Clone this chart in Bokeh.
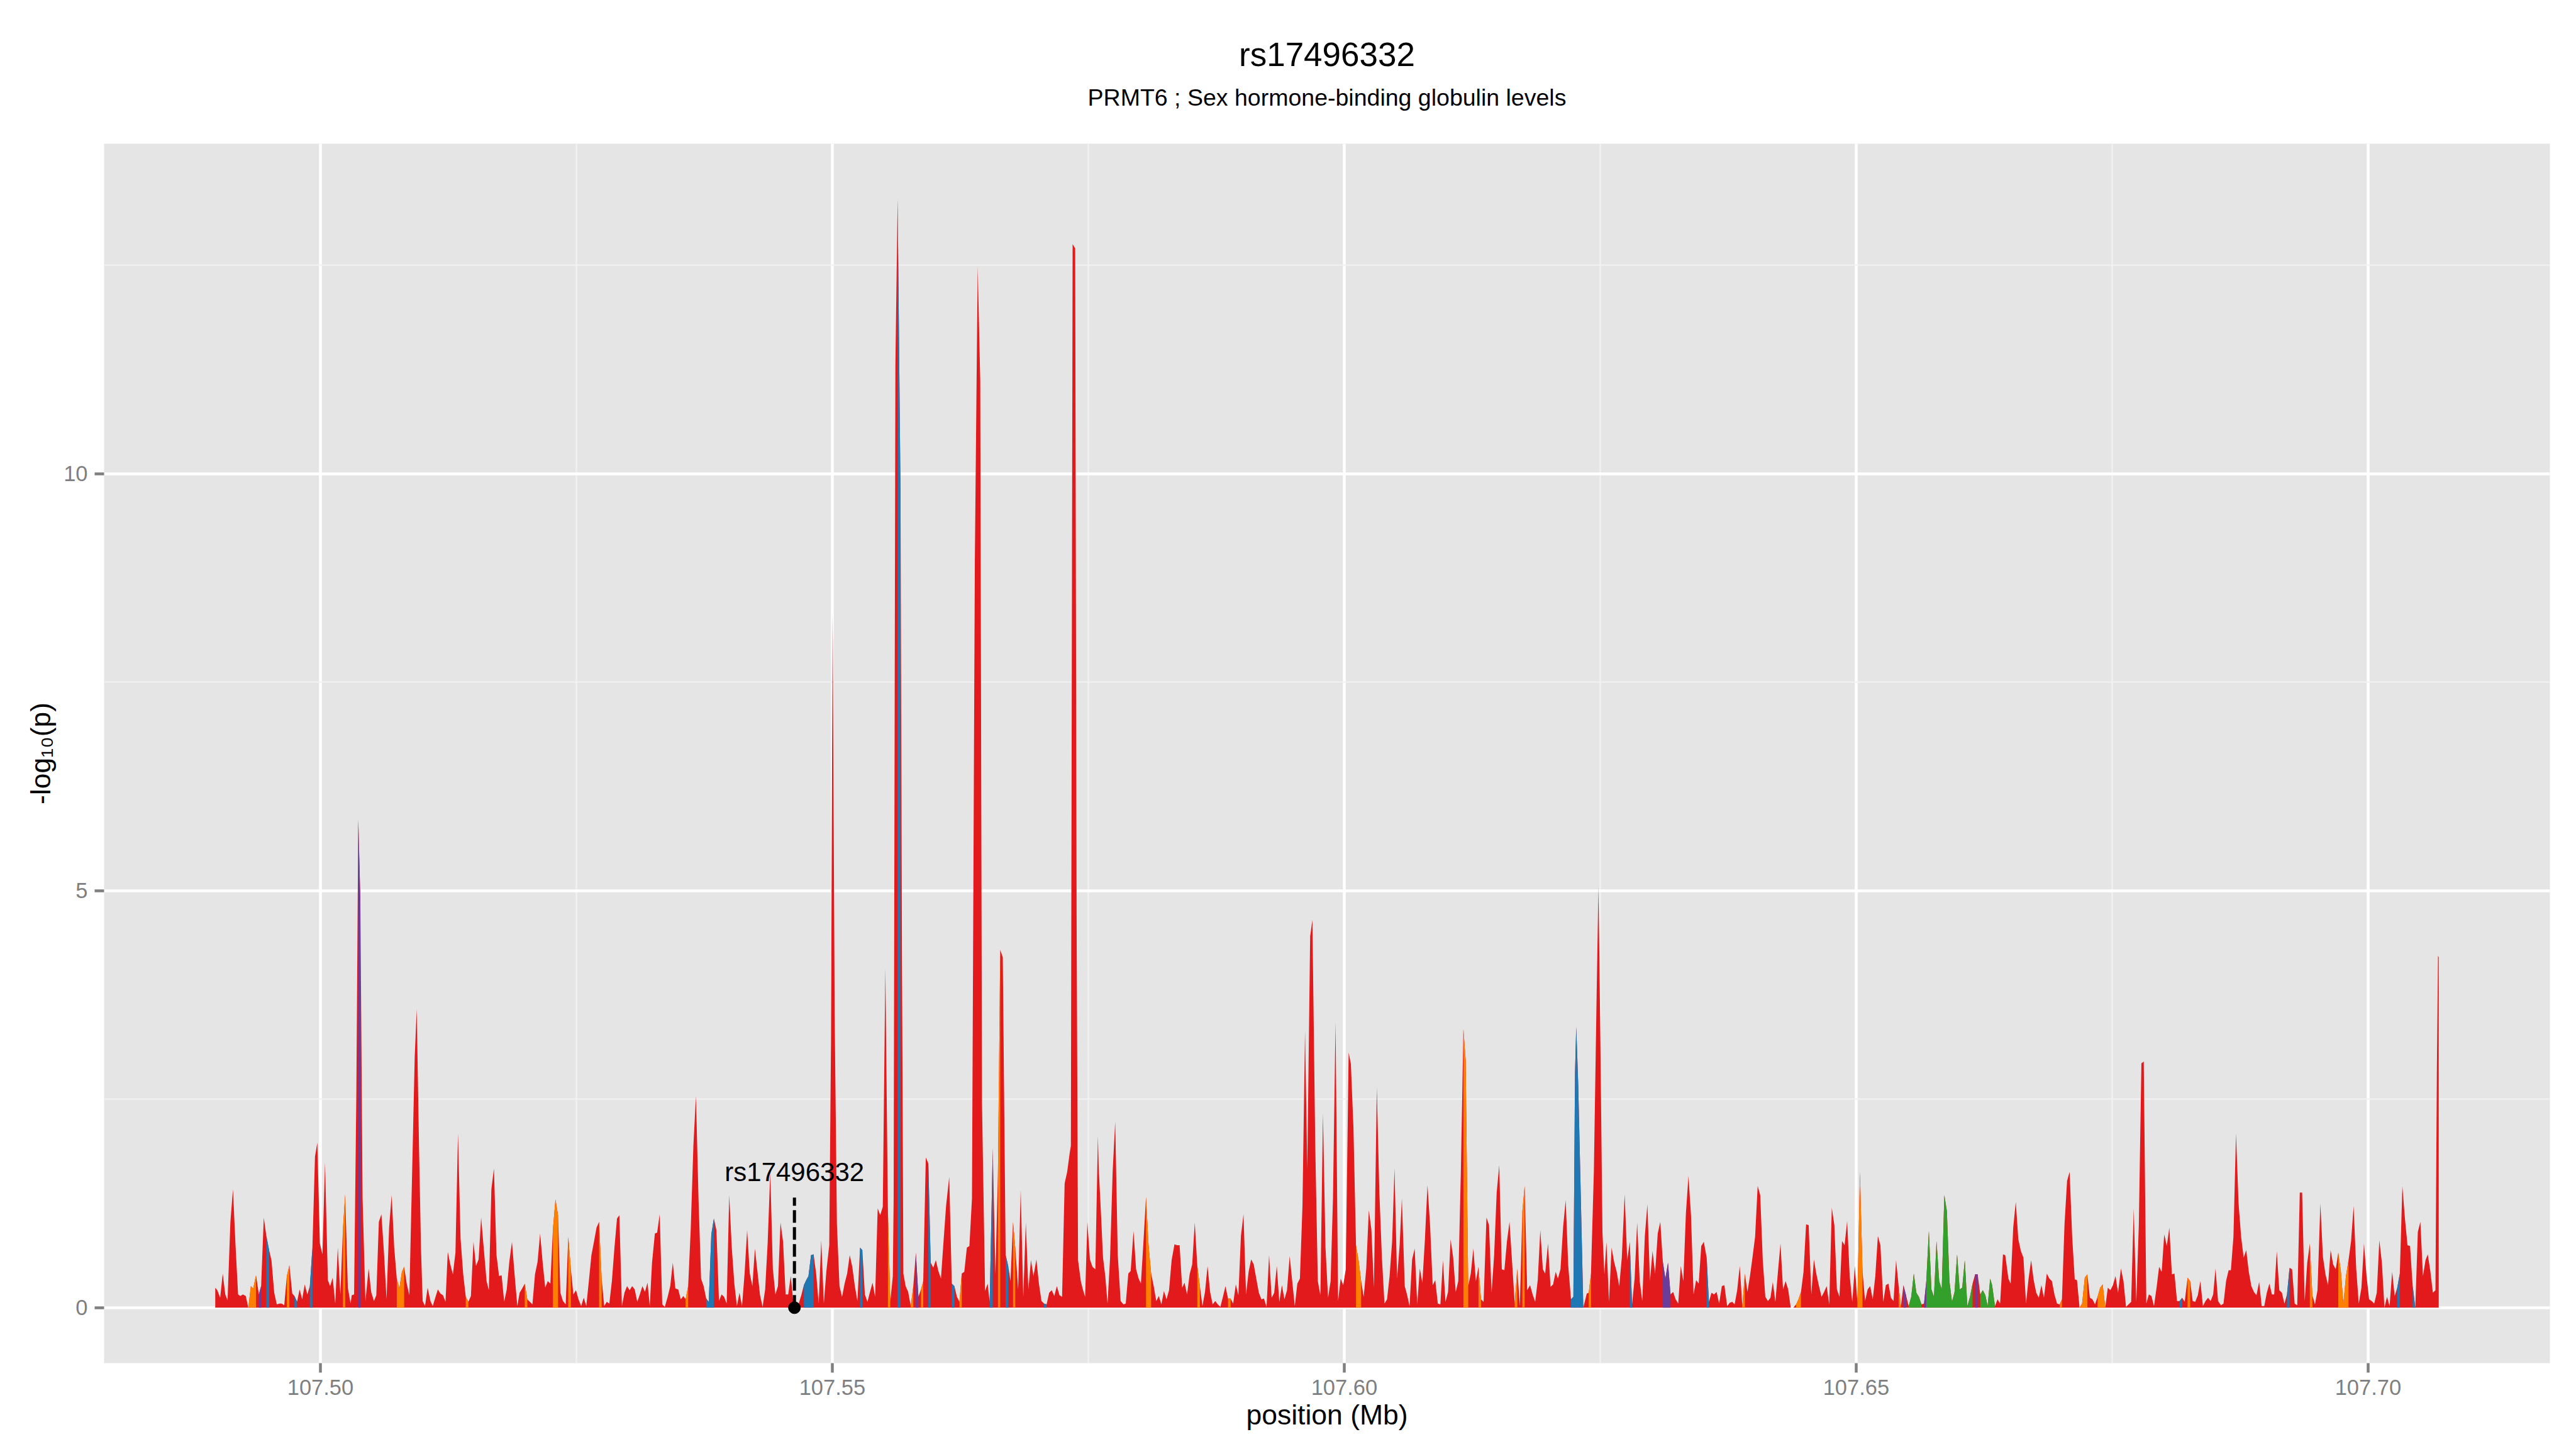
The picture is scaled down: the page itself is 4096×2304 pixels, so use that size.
from bokeh.plotting import figure
from bokeh.models import FixedTicker, PrintfTickFormatter, Title, Range1d
from bokeh.core.properties import value
from bokeh.embed import file_html
from bokeh.resources import INLINE

# ---------------- data ----------------
title_text = "rs17496332"
subtitle_text = "PRMT6 ; Sex hormone-binding globulin levels"
x_label = "position (Mb)"
y_label = "-log\u2081\u2080(p)"

snp_id = "rs17496332"
snp_position = 107.5463
snp_value = 0.0
stem_top = 1.32
label_baseline = 1.63

x_ticks = [107.50, 107.55, 107.60, 107.65, 107.70]
x_minor_ticks = [107.475, 107.525, 107.575, 107.625, 107.675, 107.725]
y_ticks = [0, 5, 10]
y_minor_ticks = [2.5, 7.5, 12.5]

position_mb = [
    107.48973, 107.48993, 107.49021, 107.49046, 107.49071, 107.49093, 107.49121, 107.49146, 107.49171, 107.49196,
    107.49218, 107.49243, 107.49271, 107.49296, 107.49321, 107.49344, 107.49371, 107.49399, 107.49421, 107.49447,
    107.49472, 107.49499, 107.49522, 107.49549, 107.49574, 107.49600, 107.49622, 107.49647, 107.49672, 107.49697,
    107.49725, 107.49747, 107.49772, 107.49797, 107.49822, 107.49847, 107.49872, 107.49897, 107.49922, 107.49947,
    107.49970, 107.49995, 107.50020, 107.50045, 107.50073, 107.50095, 107.50120, 107.50145, 107.50170, 107.50195,
    107.50220, 107.50242, 107.50268, 107.50295, 107.50306, 107.50329, 107.50351, 107.50370, 107.50390, 107.50412,
    107.50440, 107.50471, 107.50496, 107.50523, 107.50546, 107.50571, 107.50596, 107.50621, 107.50646, 107.50671,
    107.50696, 107.50721, 107.50746, 107.50771, 107.50796, 107.50818, 107.50843, 107.50869, 107.50896, 107.50921,
    107.50941, 107.50963, 107.50983, 107.50999, 107.51022, 107.51047, 107.51075, 107.51097, 107.51122, 107.51147,
    107.51172, 107.51197, 107.51222, 107.51244, 107.51269, 107.51294, 107.51319, 107.51344, 107.51369, 107.51395,
    107.51420, 107.51445, 107.51470, 107.51495, 107.51520, 107.51545, 107.51570, 107.51595, 107.51623, 107.51645,
    107.51670, 107.51695, 107.51720, 107.51745, 107.51770, 107.51795, 107.51820, 107.51845, 107.51871, 107.51896,
    107.51923, 107.51946, 107.51971, 107.51996, 107.52021, 107.52046, 107.52071, 107.52096, 107.52121, 107.52146,
    107.52171, 107.52196, 107.52221, 107.52246, 107.52271, 107.52296, 107.52321, 107.52344, 107.52369, 107.52396,
    107.52421, 107.52446, 107.52471, 107.52496, 107.52521, 107.52547, 107.52572, 107.52597, 107.52622, 107.52647,
    107.52672, 107.52697, 107.52722, 107.52747, 107.52772, 107.52797, 107.52822, 107.52847, 107.52872, 107.52897,
    107.52920, 107.52945, 107.52970, 107.52995, 107.53020, 107.53045, 107.53070, 107.53095, 107.53120, 107.53145,
    107.53170, 107.53195, 107.53217,
    107.53239, 107.53267, 107.53289, 107.53314, 107.53339, 107.53364, 107.53392, 107.53417, 107.53442, 107.53467,
    107.53495, 107.53520, 107.53545, 107.53567, 107.53592, 107.53617, 107.53643, 107.53668, 107.53693, 107.53718,
    107.53743, 107.53768, 107.53793, 107.53818, 107.53843, 107.53868, 107.53893, 107.53918, 107.53943, 107.53968,
    107.53993, 107.54018, 107.54043, 107.54068, 107.54093, 107.54118, 107.54143, 107.54168, 107.54194, 107.54219,
    107.54244, 107.54269, 107.54294, 107.54319, 107.54344, 107.54369, 107.54394, 107.54419, 107.54444, 107.54469,
    107.54494, 107.54519, 107.54544, 107.54569, 107.54594, 107.54619, 107.54644, 107.54672, 107.54697, 107.54722,
    107.54745, 107.54767, 107.54792, 107.54817, 107.54842, 107.54867, 107.54892, 107.54917, 107.54942, 107.54970,
    107.54987, 107.55003, 107.55023, 107.55045, 107.55070, 107.55095, 107.55120, 107.55145, 107.55170, 107.55195,
    107.55220, 107.55245, 107.55271, 107.55293, 107.55318, 107.55343, 107.55368, 107.55393, 107.55418, 107.55443,
    107.55468, 107.55493, 107.55518, 107.55543, 107.55566, 107.55591, 107.55599, 107.55616, 107.55638, 107.55666,
    107.55680, 107.55694, 107.55716, 107.55741, 107.55766, 107.55791, 107.55816, 107.55841, 107.55866, 107.55888,
    107.55913, 107.55938, 107.55961, 107.55986, 107.56011, 107.56036, 107.56061, 107.56086, 107.56111, 107.56142,
    107.56167, 107.56192, 107.56217, 107.56242, 107.56264, 107.56289, 107.56314, 107.56339, 107.56364, 107.56392,
    107.56420, 107.56445, 107.56462, 107.56492, 107.56517, 107.56537, 107.56567, 107.56593, 107.56618, 107.56640,
    107.56665, 107.56693, 107.56718, 107.56740, 107.56765, 107.56787, 107.56815, 107.56840, 107.56865, 107.56890,
    107.56915, 107.56940, 107.56965, 107.56993, 107.57018, 107.57043, 107.57068, 107.57093, 107.57118, 107.57143,
    107.57168, 107.57193, 107.57219, 107.57244, 107.57269, 107.57294, 107.57319, 107.57330, 107.57347, 107.57372,
    107.57386, 107.57400, 107.57427, 107.57447, 107.57469, 107.57491, 107.57516, 107.57541, 107.57569, 107.57594,
    107.57602, 107.57624, 107.57644, 107.57666, 107.57688, 107.57713, 107.57738, 107.57763, 107.57788, 107.57816,
    107.57844, 107.57866, 107.57891, 107.57914, 107.57942, 107.57967, 107.57992, 107.58014, 107.58039, 107.58064,
    107.58089, 107.58114, 107.58139, 107.58164, 107.58189, 107.58214, 107.58239, 107.58264, 107.58289, 107.58314,
    107.58342, 107.58367, 107.58392, 107.58417, 107.58440, 107.58465, 107.58490, 107.58515, 107.58540, 107.58565,
    107.58590, 107.58615, 107.58640, 107.58665, 107.58690, 107.58715, 107.58740, 107.58765, 107.58790, 107.58815,
    107.58840, 107.58865, 107.58890, 107.58915, 107.58941, 107.58966, 107.58991, 107.59016, 107.59041, 107.59066,
    107.59091, 107.59116, 107.59141, 107.59166, 107.59191, 107.59216, 107.59241, 107.59266, 107.59291, 107.59316,
    107.59341, 107.59366, 107.59391, 107.59416, 107.59441, 107.59467, 107.59492, 107.59517, 107.59542, 107.59567,
    107.59592, 107.59617, 107.59639, 107.59667, 107.59689, 107.59717, 107.59742, 107.59767, 107.59792, 107.59817,
    107.59842, 107.59867, 107.59890, 107.59915, 107.59940, 107.59965, 107.59990, 107.60015, 107.60043, 107.60065,
    107.60090, 107.60115, 107.60140, 107.60165, 107.60190, 107.60215, 107.60240, 107.60265, 107.60290, 107.60318,
    107.60343, 107.60368, 107.60393, 107.60418, 107.60443, 107.60468, 107.60491, 107.60516, 107.60541, 107.60563,
    107.60591, 107.60613, 107.60638, 107.60663, 107.60688, 107.60713, 107.60738, 107.60763, 107.60788, 107.60813,
    107.60838, 107.60864, 107.60889, 107.60914, 107.60939, 107.60964, 107.60989, 107.61014, 107.61039, 107.61064,
    107.61089, 107.61114, 107.61139, 107.61164, 107.61186, 107.61211, 107.61236, 107.61261, 107.61286, 107.61311,
    107.61336, 107.61361, 107.61389, 107.61414, 107.61439, 107.61464, 107.61489, 107.61514, 107.61539, 107.61564,
    107.61589, 107.61614, 107.61640, 107.61665, 107.61690, 107.61715, 107.61740, 107.61762, 107.61787, 107.61815,
    107.61840, 107.61865, 107.61890, 107.61915, 107.61940, 107.61962,
    107.61965, 107.61990, 107.62015, 107.62040, 107.62065, 107.62087, 107.62112, 107.62138, 107.62163, 107.62188,
    107.62215, 107.62238, 107.62254, 107.62266, 107.62285, 107.62305, 107.62335, 107.62369, 107.62388, 107.62410,
    107.62438, 107.62466, 107.62483, 107.62502, 107.62522, 107.62541, 107.62561, 107.62586, 107.62611, 107.62636,
    107.62661, 107.62686, 107.62711, 107.62739, 107.62764, 107.62789, 107.62811, 107.62836, 107.62861, 107.62886,
    107.62911, 107.62936, 107.62961, 107.62986, 107.63011, 107.63036, 107.63062, 107.63087, 107.63112, 107.63137,
    107.63162, 107.63187, 107.63212, 107.63237, 107.63262, 107.63287, 107.63312, 107.63337, 107.63362, 107.63387,
    107.63412, 107.63437, 107.63462, 107.63487, 107.63512, 107.63540, 107.63562, 107.63587, 107.63612, 107.63637,
    107.63662, 107.63688, 107.63713, 107.63740, 107.63765, 107.63790, 107.63813, 107.63838, 107.63863, 107.63888,
    107.63913, 107.63938, 107.63963, 107.63988, 107.64013, 107.64038, 107.64063, 107.64088, 107.64113, 107.64138,
    107.64163, 107.64186, 107.64211, 107.64236, 107.64261, 107.64286, 107.64311, 107.64336, 107.64361, 107.64386,
    107.64414, 107.64436, 107.64461, 107.64486, 107.64511, 107.64536, 107.64562, 107.64587, 107.64612, 107.64637,
    107.64662, 107.64687, 107.64712, 107.64737, 107.64762, 107.64787, 107.64812, 107.64837, 107.64862, 107.64887,
    107.64912, 107.64937, 107.64962, 107.64987, 107.65012, 107.65037, 107.65062, 107.65087, 107.65112, 107.65137,
    107.65162, 107.65187, 107.65212, 107.65237, 107.65265, 107.65290, 107.65315, 107.65340, 107.65365, 107.65390,
    107.65415, 107.65437, 107.65462, 107.65487, 107.65513, 107.65538, 107.65563, 107.65588, 107.65613, 107.65638,
    107.65663, 107.65685, 107.65710, 107.65735, 107.65760, 107.65785, 107.65811, 107.65836, 107.65861, 107.65886,
    107.65911, 107.65936, 107.65961, 107.65986, 107.66011, 107.66036, 107.66061, 107.66086, 107.66112, 107.66137,
    107.66162, 107.66187, 107.66212, 107.66237, 107.66262, 107.66284, 107.66309,
    107.66328, 107.66356, 107.66381, 107.66406, 107.66434, 107.66456, 107.66487, 107.66509, 107.66534, 107.66559,
    107.66584, 107.66609, 107.66634, 107.66659, 107.66684, 107.66709, 107.66734, 107.66759, 107.66784, 107.66809,
    107.66834, 107.66862, 107.66887, 107.66912, 107.66937, 107.66962, 107.66988, 107.67010, 107.67035, 107.67060,
    107.67085, 107.67110, 107.67135, 107.67157, 107.67182, 107.67207, 107.67233, 107.67258, 107.67283, 107.67308,
    107.67333, 107.67358, 107.67383, 107.67408, 107.67433, 107.67458, 107.67483, 107.67508, 107.67533, 107.67558,
    107.67586, 107.67611, 107.67636, 107.67661, 107.67686, 107.67711, 107.67736, 107.67761, 107.67786, 107.67809,
    107.67834, 107.67859, 107.67884, 107.67909, 107.67934, 107.67959, 107.67984, 107.68009, 107.68034, 107.68059,
    107.68084, 107.68109, 107.68134, 107.68159, 107.68184, 107.68209, 107.68237, 107.68262, 107.68287, 107.68312,
    107.68337, 107.68362, 107.68387, 107.68412, 107.68437, 107.68462, 107.68487, 107.68510, 107.68535, 107.68563,
    107.68588, 107.68613, 107.68638, 107.68660, 107.68685, 107.68710, 107.68735, 107.68760, 107.68785, 107.68810,
    107.68835, 107.68860, 107.68885, 107.68910, 107.68936, 107.68961, 107.68986, 107.69011, 107.69036, 107.69061,
    107.69083, 107.69108, 107.69133, 107.69158, 107.69183, 107.69208, 107.69233, 107.69258, 107.69283, 107.69308,
    107.69333, 107.69356, 107.69381, 107.69406, 107.69431, 107.69456, 107.69481, 107.69506, 107.69534, 107.69559,
    107.69584, 107.69609, 107.69634, 107.69659, 107.69684, 107.69709, 107.69734, 107.69759, 107.69784, 107.69809,
    107.69834, 107.69859, 107.69884, 107.69909, 107.69935, 107.69960, 107.69985, 107.70010, 107.70035, 107.70060,
    107.70085, 107.70110, 107.70135, 107.70160, 107.70185, 107.70210, 107.70235, 107.70260, 107.70285, 107.70310,
    107.70335, 107.70360, 107.70385, 107.70410, 107.70436, 107.70461, 107.70486, 107.70511, 107.70536, 107.70561,
    107.70583, 107.70608, 107.70633, 107.70658, 107.70672, 107.70683, 107.70690,
]

neg_log10_p = [
    0.24, 0.21, 0.12, 0.41, 0.16, 0.09, 1.03, 1.42, 0.75, 0.16,
    0.14, 0.16, 0.14, 0.00, 0.26, 0.23, 0.39, 0.16, 0.26, 1.08,
    0.86, 0.69, 0.57, 0.18, 0.04, 0.05, 0.05, 0.03, 0.38, 0.51,
    0.17, 0.14, 0.07, 0.22, 0.10, 0.28, 0.16, 0.26, 0.72, 1.81,
    1.98, 0.77, 0.64, 1.74, 0.33, 0.26, 0.36, 0.05, 0.72, 0.16,
    0.94, 1.36, 0.24, 0.05, 0.15, 0.16, 2.56, 5.85, 4.90, 1.31,
    0.08, 0.47, 0.19, 0.08, 0.15, 1.03, 1.12, 0.66, 0.10, 0.96,
    1.35, 0.72, 0.35, 0.23, 0.43, 0.49, 0.29, 0.15, 1.63, 3.00,
    3.58, 1.94, 0.69, 0.08, 0.02, 0.24, 0.08, 0.02, 0.12, 0.22,
    0.17, 0.15, 0.07, 0.67, 0.52, 0.40, 0.66, 2.09, 0.83, 0.40,
    0.13, 0.07, 0.14, 0.79, 0.50, 0.58, 1.08, 0.72, 0.32, 0.21,
    1.42, 1.67, 0.63, 0.38, 0.39, 0.07, 0.22, 0.55, 0.79, 0.41,
    0.02, 0.18, 0.23, 0.29, 0.10, 0.07, 0.04, 0.40, 0.55, 0.89,
    0.54, 0.24, 0.32, 0.29, 0.94, 1.30, 1.11, 0.18, 0.08, 0.04,
    0.85, 0.47, 0.16, 0.21, 0.10, 0.02, 0.12, 0.02, 0.32, 0.63,
    0.79, 0.96, 1.03, 0.35, 0.02, 0.07, 0.05, 0.32, 0.72, 1.07,
    1.11, 0.02, 0.18, 0.26, 0.21, 0.26, 0.22, 0.07, 0.16, 0.26,
    0.19, 0.30, 0.02,
    0.54, 0.89, 0.90, 1.12, 0.04, 0.01, 0.13, 0.26, 0.54, 0.23,
    0.22, 0.10, 0.14, 0.10, 0.26, 0.94, 1.94, 2.54, 1.31, 0.35,
    0.26, 0.11, 0.07, 0.88, 1.07, 0.93, 0.08, 0.16, 0.13, 0.05,
    1.35, 0.72, 0.29, 0.02, 0.18, 0.02, 0.41, 0.93, 0.41, 0.26,
    0.71, 0.43, 0.15, 0.01, 0.22, 0.79, 1.63, 0.47, 0.16, 0.26,
    1.02, 0.79, 0.16, 0.16, 0.38, 0.07, 0.00, 0.05, 0.15, 0.27,
    0.33, 0.38, 0.63, 0.64, 0.41, 0.05, 0.81, 0.05, 0.44, 0.75,
    3.18, 8.33, 3.50, 1.00, 0.26, 0.13, 0.29, 0.41, 0.63, 0.49,
    0.26, 0.08, 0.72, 0.69, 0.16, 0.07, 0.19, 0.30, 0.13, 1.19,
    1.11, 1.21, 4.07, 1.16, 0.07, 0.38, 1.31, 11.30, 13.29, 9.77,
    4.27, 0.41, 0.26, 0.19, 0.02, 0.26, 0.66, 0.13, 0.22, 0.32,
    1.80, 1.73, 0.54, 0.48, 0.57, 0.44, 0.35, 0.79, 1.22, 1.57,
    0.29, 0.26, 0.13, 0.07, 0.41, 0.43, 0.72, 0.74, 1.31, 8.96,
    12.48, 11.10, 2.46, 0.20, 0.29, 0.07, 1.91, 0.40, 1.63, 4.29,
    4.20, 0.63, 0.50, 0.32, 1.03, 0.72, 0.22, 1.41, 0.13, 1.02,
    0.22, 0.57, 0.38, 0.58, 0.29, 0.08, 0.05, 0.04, 0.18, 0.21,
    0.14, 0.26, 0.15, 0.13, 1.49, 1.63, 1.86, 1.94, 12.75, 12.70,
    4.70, 0.57, 0.32, 0.22, 0.13, 1.03, 0.58, 0.49, 0.46, 2.06,
    1.67, 1.13, 0.60, 0.38, 0.05, 0.60, 1.63, 2.23, 0.63, 0.08,
    0.04, 0.05, 0.41, 0.44, 0.92, 0.46, 0.35, 0.29, 0.79, 1.33,
    0.75, 0.41, 0.26, 0.08, 0.14, 0.04, 0.20, 0.10, 0.21, 0.57,
    0.76, 0.75, 0.75, 0.24, 0.30, 0.16, 0.40, 0.52, 1.02, 0.50,
    0.26, 0.02, 0.19, 0.50, 0.19, 0.04, 0.08, 0.04, 0.01, 0.13,
    0.26, 0.11, 0.11, 0.05, 0.28, 0.15, 0.86, 1.12, 0.16, 0.43,
    0.58, 0.52, 0.35, 0.18, 0.10, 0.11, 0.01, 0.63, 0.12, 0.18,
    0.50, 0.07, 0.27, 0.10, 0.21, 0.62, 0.32, 0.02, 0.29, 0.35,
    1.22, 3.32, 1.66, 4.45, 4.65, 1.94, 0.32, 0.15, 2.33, 0.72,
    0.12, 0.32, 1.31, 3.43, 0.08, 0.35, 0.27, 0.46, 3.06, 2.92,
    2.16, 0.75, 0.57, 0.32, 0.13, 0.47, 1.17, 0.94, 0.24, 2.64,
    1.38, 0.60, 0.05, 0.10, 0.38, 0.80, 1.67, 0.35, 0.75, 1.31,
    0.26, 0.16, 0.02, 0.58, 0.71, 0.04, 0.47, 0.30, 0.82, 1.47,
    1.00, 0.27, 0.33, 0.05, 0.04, 0.57, 0.07, 0.19, 0.82, 0.60,
    0.19, 0.32, 1.63, 3.34, 2.97, 0.26, 0.41, 0.71, 0.32, 0.49,
    0.10, 0.07, 1.08, 0.99, 0.18, 0.63, 1.38, 1.71, 0.46, 0.45,
    0.79, 1.03, 0.54, 0.05, 0.47, 0.02, 1.16, 1.46, 0.21, 0.27,
    0.16, 0.07, 0.33, 0.93, 0.46, 0.41,
    0.44, 0.77, 0.25, 0.28, 0.43, 0.35, 0.46, 0.97, 1.29, 0.50,
    0.10, 0.13, 2.81, 3.37, 2.69, 1.63, 0.00, 0.17, 0.18, 0.41,
    1.63, 3.81, 5.05, 3.18, 0.91, 0.40, 0.79, 0.07, 0.72, 0.55,
    0.43, 0.26, 0.60, 1.36, 0.57, 0.79, 0.04, 0.35, 1.02, 0.32,
    0.08, 0.86, 1.24, 0.32, 0.68, 0.41, 0.89, 1.03, 0.55, 0.35,
    0.54, 0.16, 0.19, 0.10, 0.05, 0.50, 0.32, 1.13, 1.58, 1.11,
    0.16, 0.33, 0.29, 0.74, 0.79, 0.60, 0.07, 0.18, 0.16, 0.19,
    0.05, 0.26, 0.27, 0.02, 0.06, 0.07, 0.04, 0.21, 0.50, 0.02,
    0.41, 0.19, 0.38, 0.61, 0.85, 1.46, 1.35, 0.57, 0.13, 0.08,
    0.12, 0.31, 0.07, 0.43, 0.77, 0.22, 0.32, 0.22, 0.00, 0.00,
    0.04, 0.10, 0.19, 0.43, 1.00, 0.99, 0.16, 0.58, 0.40, 0.26,
    0.13, 0.19, 0.26, 0.04, 1.20, 0.99, 0.22, 0.13, 0.80, 0.75,
    1.04, 0.38, 0.07, 0.50, 0.07, 1.63, 0.44, 0.08, 0.22, 0.26,
    0.10, 0.38, 0.86, 0.75, 0.07, 0.27, 0.29, 0.12, 0.08, 0.57,
    0.26, 0.02, 0.27, 0.15, 0.02, 0.13, 0.41, 0.18, 0.13, 0.04,
    0.05, 0.32, 0.92, 0.22, 0.13, 0.80, 0.32, 0.22, 1.35, 1.16,
    0.32, 0.07, 0.19, 0.64, 0.22, 0.24, 0.57, 0.02, 0.13, 0.29,
    0.40, 0.40, 0.16, 0.21, 0.15, 0.02, 0.35,
    0.27, 0.02, 0.10, 0.05, 0.64, 0.63, 0.35, 0.29, 0.96, 1.27,
    0.82, 0.68, 0.60, 0.05, 0.35, 0.57, 0.33, 0.18, 0.12, 0.27,
    0.12, 0.41, 0.35, 0.32, 0.16, 0.05, 0.04, 0.10, 1.00, 1.52,
    1.63, 0.85, 0.34, 0.33, 0.00, 0.05, 0.36, 0.40, 0.12, 0.10,
    0.04, 0.13, 0.24, 0.28, 0.00, 0.24, 0.21, 0.27, 0.38, 0.18,
    0.47, 0.32, 0.01, 0.04, 0.07, 1.19, 0.07, 1.00, 2.93, 2.95,
    0.05, 0.16, 0.14, 0.02, 0.24, 0.49, 0.43, 0.88, 0.74, 0.96,
    0.40, 0.41, 0.08, 0.08, 0.12, 0.07, 0.36, 0.32, 0.08, 0.07,
    0.15, 0.32, 0.02, 0.08, 0.12, 0.08, 0.16, 0.47, 0.08, 0.03,
    0.05, 0.32, 0.45, 0.45, 0.85, 2.09, 1.25, 0.85, 0.60, 0.69,
    0.43, 0.26, 0.19, 0.15, 0.31, 0.02, 0.02, 0.18, 0.29, 0.16,
    0.16, 0.68, 0.21, 0.18, 0.05, 0.16, 0.48, 0.46, 0.05, 0.03,
    1.38, 1.38, 0.08, 0.54, 0.77, 0.15, 0.04, 0.21, 1.25, 0.61,
    0.40, 0.27, 0.69, 0.52, 0.46, 0.66, 0.44, 0.05, 0.38, 0.57,
    0.80, 1.22, 0.47, 0.05, 0.24, 0.77, 0.38, 0.10, 0.08, 0.05,
    0.18, 0.81, 0.54, 0.00, 0.13, 0.02, 0.43, 0.14, 0.24, 0.41,
    1.46, 1.07, 0.75, 0.74, 0.26, 0.00, 0.91, 1.03, 0.38, 0.57,
    0.64, 0.44, 0.18, 0.21, 2.87, 4.22, 4.20,
]

# SNPs whose class differs from the default (class "A")
class_b_positions = [
    107.49472, 107.49747, 107.49897, 107.53768, 107.53793, 107.53818, 107.54722, 107.54745,
    107.54767, 107.54792, 107.55271, 107.55638, 107.55938, 107.56167, 107.56537, 107.56693,
    107.57068, 107.62215, 107.62238, 107.62254, 107.62266, 107.62285, 107.62305, 107.62789,
    107.63540, 107.68159, 107.69208, 107.70285, 107.70436,
]
class_c_positions = [
    107.49296, 107.49321, 107.49344, 107.49672, 107.50220, 107.50746, 107.50771, 107.50796,
    107.51420, 107.51996, 107.52271, 107.52296, 107.52421, 107.52722, 107.53567, 107.55543,
    107.55766, 107.55866, 107.56242, 107.56618, 107.56765, 107.58064, 107.58089, 107.58565,
    107.58865, 107.60115, 107.60140, 107.61164, 107.61186, 107.61311, 107.61665, 107.61740,
    107.62388, 107.63888, 107.64414, 107.64436, 107.65012, 107.65037, 107.65415, 107.66988,
    107.67182, 107.67207, 107.67233, 107.67358, 107.67383, 107.67408, 107.68237, 107.69431,
    107.69709, 107.69734, 107.69759, 107.69784,
]
class_d_positions = [
    107.49399, 107.50370, 107.55816, 107.63112, 107.63137, 107.63162, 107.65462, 107.65663,
    107.66162,
]
class_e_positions = [
    107.65513, 107.65538, 107.65563, 107.65588, 107.65613, 107.65685, 107.65710, 107.65735,
    107.65760, 107.65785, 107.65811, 107.65836, 107.65861, 107.65886, 107.65911, 107.65936,
    107.65961, 107.65986, 107.66011, 107.66036, 107.66061, 107.66086, 107.66112, 107.66212,
    107.66237, 107.66262, 107.66284, 107.66309, 107.66328,
]

assert len(position_mb) == len(neg_log10_p), (len(position_mb), len(neg_log10_p))

# ---------------- styles ----------------
palette = {"A": "#E31A1C", "B": "#1F78B4", "C": "#FF7F00", "D": "#6A3D9A", "E": "#33A02C"}
FONT = "Liberation Sans"

lookup = {}
for cls, plist in (("B", class_b_positions), ("C", class_c_positions),
                   ("D", class_d_positions), ("E", class_e_positions)):
    for pp in plist:
        lookup[round(pp, 5)] = cls
snp_class = [lookup.get(round(pp, 5), "A") for pp in position_mb]

n = len(position_mb)
run_xs, run_ys, run_colors = [], [], []
i = 0
while i < n:
    c = snp_class[i]
    j = i
    while j + 1 < n and snp_class[j + 1] == c:
        j += 1
    if c != "A":
        end = min(j + 1, n - 1)
        xs = position_mb[i:end + 1]
        ys = neg_log10_p[i:end + 1]
        run_xs.append(list(xs) + [xs[-1], xs[0]])
        run_ys.append(list(ys) + [0.0, 0.0])
        run_colors.append(palette[c])
    i = j + 1

xmin, xmax = min(position_mb), max(position_mb)
ymin, ymax = 0.0, max(neg_log10_p)
xpad = 0.05 * (xmax - xmin)
ypad = 0.05 * (ymax - ymin)

p = figure(
    width=4080, height=2288,
    x_range=Range1d(xmin - xpad, xmax + xpad),
    y_range=Range1d(ymin - ypad, ymax + ypad),
    output_backend="svg", toolbar_location=None, title_location=None,
    min_border_left=165, min_border_right=26, min_border_top=228, min_border_bottom=121,
)
p.background_fill_color = "#E5E5E5"
p.border_fill_color = "white"
p.outline_line_color = None

# titles: stacked outward from the frame (a blank spacer first)
p.add_layout(Title(text=" ", align="center", text_font=FONT, text_font_size="2px",
                   text_color="white", standoff=49), "above")
p.add_layout(Title(text=subtitle_text, align="center", text_font=FONT, text_font_size="37.5px",
                   text_font_style="normal", text_color="black", standoff=0), "above")
p.add_layout(Title(text=title_text, align="center", text_font=FONT, text_font_size="53px",
                   text_font_style="normal", text_color="black", standoff=32), "above")

xt = FixedTicker(ticks=x_ticks, minor_ticks=x_minor_ticks)
yt = FixedTicker(ticks=y_ticks, minor_ticks=y_minor_ticks)
p.xaxis.ticker = xt
p.yaxis.ticker = yt
p.xgrid.ticker = xt
p.ygrid.ticker = yt
p.xaxis.formatter = PrintfTickFormatter(format="%.2f")
p.yaxis.formatter = PrintfTickFormatter(format="%d")

for g in (p.xgrid, p.ygrid):
    g.grid_line_color = "white"
    g.grid_line_width = 4.5
    g.minor_grid_line_color = "#F2F2F2"
    g.minor_grid_line_width = 2.2

for ax in (p.xaxis, p.yaxis):
    ax.axis_line_color = None
    ax.major_tick_line_color = "#7F7F7F"
    ax.major_tick_line_width = 4.5
    ax.major_tick_in = 0
    ax.major_tick_out = 15
    ax.minor_tick_line_color = None
    ax.major_label_text_font = FONT
    ax.major_label_text_font_size = "34.5px"
    ax.major_label_text_color = "#7F7F7F"
    ax.axis_label_text_font = FONT
    ax.axis_label_text_font_size = "44.5px"
    ax.axis_label_text_font_style = "normal"
    ax.axis_label_text_color = "black"

p.xaxis.axis_label = x_label
p.yaxis.axis_label = y_label
p.xaxis.major_label_standoff = 11
p.xaxis.axis_label_standoff = 4
p.yaxis.major_label_standoff = 11
p.yaxis.axis_label_standoff = 9

# association profile
p.varea(x=position_mb, y1=0.0, y2=neg_log10_p, fill_color=palette["A"])
p.patches(xs=run_xs, ys=run_ys, fill_color=run_colors, line_color=None)

# highlighted SNP
p.line(x=[snp_position, snp_position], y=[snp_value, stem_top], line_color="black",
       line_width=5, line_dash="20 7")
p.scatter(x=[snp_position], y=[snp_value], size=19, fill_color="black", line_color="black")
p.text(x=[snp_position], y=[label_baseline], text=[snp_id], text_font=value(FONT),
       text_font_size=value("42px"), text_align="center", text_baseline="alphabetic",
       text_color="black")

open("out.html", "w").write(file_html(p, INLINE))
